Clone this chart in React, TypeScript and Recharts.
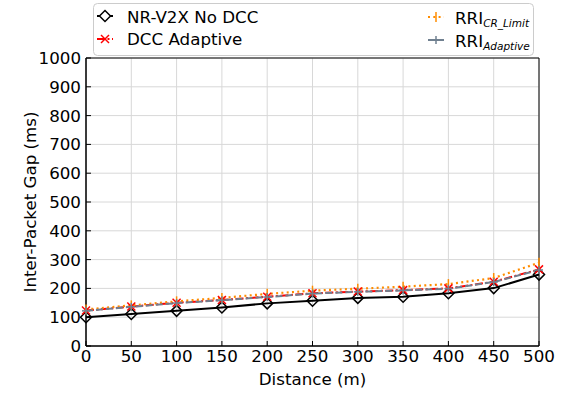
import React from "react";
import { LineChart, Line, XAxis, YAxis, CartesianGrid, ReferenceArea } from "recharts";

const distances = [0, 50, 100, 150, 200, 250, 300, 350, 400, 450, 500];
const noDcc = [100, 111, 122, 134, 148, 157, 167, 171, 183, 201, 248];
const dccAdaptive = [123, 137, 150, 160, 171, 183, 189, 194, 200, 223, 266];
const rriCrLimit = [127, 141, 155, 167, 181, 192, 199, 206, 215, 236, 289];
const rriAdaptive = [122, 136, 149, 159, 170, 182, 188, 193, 199, 222, 264];
const xTicks = [0, 50, 100, 150, 200, 250, 300, 350, 400, 450, 500];
const yTicks = [0, 100, 200, 300, 400, 500, 600, 700, 800, 900, 1000];

const data = distances.map((d, i) => ({
  d,
  noDcc: noDcc[i],
  dccAdaptive: dccAdaptive[i],
  rriCrLimit: rriCrLimit[i],
  rriAdaptive: rriAdaptive[i],
}));

const FONT = "'DejaVu Sans', sans-serif";
const BLACK = "#000000";
const RED = "#ff0000";
const ORANGE = "#ff8c00";
const GRAY = "#708090";

const Diamond = (p: any) => {
  const { cx, cy } = p;
  if (cx == null || cy == null) return null;
  return (
    <polygon
      key={`dm-${p.index}`}
      points={`${cx},${cy - 5.5} ${cx + 5.5},${cy} ${cx},${cy + 5.5} ${cx - 5.5},${cy}`}
      fill="none"
      stroke={BLACK}
      strokeWidth={1.5}
    />
  );
};
const Cross = (p: any) => {
  const { cx, cy } = p;
  if (cx == null || cy == null) return null;
  return (
    <g key={`cx-${p.index}`} stroke={RED} strokeWidth={1.5}>
      <line x1={cx - 4} y1={cy - 4} x2={cx + 4} y2={cy + 4} />
      <line x1={cx - 4} y1={cy + 4} x2={cx + 4} y2={cy - 4} />
    </g>
  );
};
const VBar = (p: any) => {
  const { cx, cy } = p;
  if (cx == null || cy == null) return null;
  return <line key={`vb-${p.index}`} x1={cx} y1={cy - 5} x2={cx} y2={cy + 5} stroke={ORANGE} strokeWidth={1.5} />;
};
const Plus = (p: any) => {
  const { cx, cy } = p;
  if (cx == null || cy == null) return null;
  return (
    <g key={`pl-${p.index}`} stroke={GRAY} strokeWidth={1.5}>
      <line x1={cx - 4} y1={cy} x2={cx + 4} y2={cy} />
      <line x1={cx} y1={cy - 4} x2={cx} y2={cy + 4} />
    </g>
  );
};

const XTick = (p: any) => {
  const { x, y, payload } = p;
  return (
    <g>
      <line x1={x} y1={y} x2={x} y2={y - 5} stroke={BLACK} strokeWidth={1} />
      <text x={x} y={y + 16} textAnchor="middle" fontFamily={FONT} fontSize={16.7} fill={BLACK}>
        {payload.value}
      </text>
    </g>
  );
};
const YTick = (p: any) => {
  const { x, y, payload } = p;
  return (
    <g>
      <line x1={x} y1={y} x2={x + 5} y2={y} stroke={BLACK} strokeWidth={1} />
      <text x={x - 5} y={y + 6} textAnchor="end" fontFamily={FONT} fontSize={16.7} fill={BLACK}>
        {payload.value}
      </text>
    </g>
  );
};

const XLabel = (p: any) => {
  const vb = p.viewBox;
  return (
    <text x={vb.x + vb.width / 2} y={vb.y + 39} textAnchor="middle" fontFamily={FONT} fontSize={16.7} fill={BLACK}>
      Distance (m)
    </text>
  );
};
const YLabel = (p: any) => {
  const vb = p.viewBox;
  const cx = vb.x + 30;
  const cy = vb.y + vb.height / 2;
  return (
    <text
      x={cx}
      y={cy}
      transform={`rotate(-90 ${cx} ${cy})`}
      textAnchor="middle"
      dominantBaseline="central"
      fontFamily={FONT}
      fontSize={16.7}
      fill={BLACK}
    >
      Inter-Packet Gap (ms)
    </text>
  );
};

const LFS = 16.7;
const SFS = 10.5;

const LegendOverlay = () => (
  <svg width={566} height={60} style={{ position: "absolute", left: 0, top: 0, pointerEvents: "none" }}>
    <rect x={93.5} y={3.5} width={440} height={52} rx={4} fill="#ffffff" fillOpacity={0.8} stroke="#cccccc" strokeWidth={1} />
    {/* row 1 col 1 */}
    <line x1={97} y1={16} x2={113} y2={16} stroke={BLACK} strokeWidth={2} />
    <polygon points="105,10.5 110.5,16 105,21.5 99.5,16" fill="#fff" stroke={BLACK} strokeWidth={1.5} />
    <text x={127} y={22.5} fontFamily={FONT} fontSize={LFS} fill={BLACK}>NR-V2X No DCC</text>
    {/* row 2 col 1 */}
    <line x1={97} y1={39} x2={113} y2={39} stroke={RED} strokeWidth={2} strokeDasharray="8 2.5 2 2.5" />
    <g stroke={RED} strokeWidth={1.5}>
      <line x1={101} y1={35} x2={109} y2={43} />
      <line x1={101} y1={43} x2={109} y2={35} />
    </g>
    <text x={127} y={45} fontFamily={FONT} fontSize={LFS} fill={BLACK}>DCC Adaptive</text>
    {/* row 1 col 2 */}
    <line x1={428} y1={17} x2={444} y2={17} stroke={ORANGE} strokeWidth={2} strokeDasharray="2 3.3" />
    <line x1={436} y1={12} x2={436} y2={22} stroke={ORANGE} strokeWidth={1.5} />
    <text x={455} y={24} fontFamily={FONT} fontSize={LFS} fill={BLACK}>
      RRI
      <tspan fontSize={SFS} fontStyle="italic" dy={3}>CR_Limit</tspan>
    </text>
    {/* row 2 col 2 */}
    <line x1={428} y1={40} x2={444} y2={40} stroke={GRAY} strokeWidth={2} />
    <line x1={436} y1={36} x2={436} y2={44} stroke={GRAY} strokeWidth={1.5} />
    <text x={455} y={47} fontFamily={FONT} fontSize={LFS} fill={BLACK}>
      RRI
      <tspan fontSize={SFS} fontStyle="italic" dy={3}>Adaptive</tspan>
    </text>
  </svg>
);

export default function App() {
  return (
    <div style={{ position: "absolute", left: 0, top: 0, width: 566, height: 393, background: "#fff" }}>
      <LineChart width={566} height={393} data={data} margin={{ top: 58, right: 27, bottom: 0, left: 0 }}>
        <CartesianGrid stroke="#d8d8d8" strokeWidth={1} />
        <XAxis
          dataKey="d"
          type="number"
          domain={[0, 500]}
          ticks={xTicks}
          height={47}
          tickSize={0}
          tickMargin={0}
          tickLine={false}
          axisLine={{ stroke: BLACK, strokeWidth: 1 }}
          tick={<XTick />}
          label={<XLabel />}
          interval={0}
        />
        <YAxis
          type="number"
          domain={[0, 1000]}
          ticks={yTicks}
          width={86}
          tickSize={0}
          tickMargin={0}
          tickLine={false}
          axisLine={{ stroke: BLACK, strokeWidth: 1 }}
          tick={<YTick />}
          label={<YLabel />}
          interval={0}
        />
        <ReferenceArea x1={0} x2={500} y1={0} y2={1000} fill="none" stroke={BLACK} strokeWidth={1} />
        <Line
          dataKey="noDcc"
          stroke={BLACK}
          strokeWidth={2}
          dot={<Diamond />}
          isAnimationActive={false}
        />
        <Line
          dataKey="dccAdaptive"
          stroke={RED}
          strokeWidth={2}
          strokeDasharray="8 2.5 2 2.5"
          dot={<Cross />}
          isAnimationActive={false}
        />
        <Line
          dataKey="rriCrLimit"
          stroke={ORANGE}
          strokeWidth={2.2}
          strokeDasharray="2 3.3"
          dot={<VBar />}
          isAnimationActive={false}
        />
        <Line
          dataKey="rriAdaptive"
          stroke={GRAY}
          strokeWidth={2}
          strokeDasharray="7 3"
          dot={<Plus />}
          isAnimationActive={false}
        />
      </LineChart>
      <LegendOverlay />
    </div>
  );
}
